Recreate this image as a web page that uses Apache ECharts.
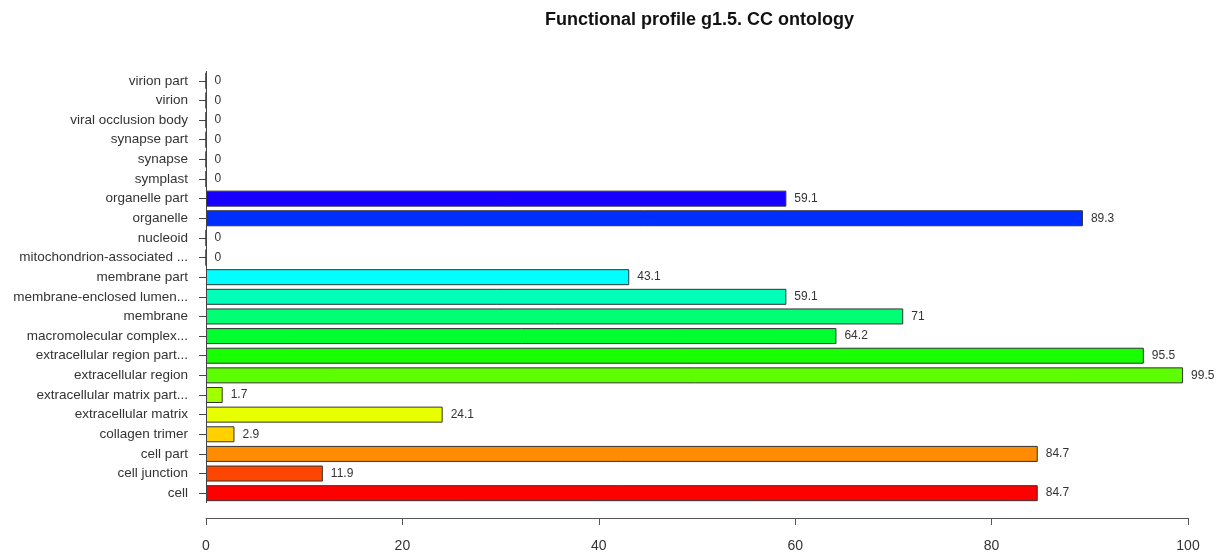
<!DOCTYPE html>
<html>
<head>
<meta charset="utf-8">
<script src="https://cdn.jsdelivr.net/npm/echarts@6/dist/echarts.min.js"></script>
<style>
  html, body { margin: 0; padding: 0; background: #fff; }
  #chart { width: 1222px; height: 554px; }
</style>
</head>
<body>
<div id="chart"></div>
<script>
// GO cellular component terms, listed from the bottom bar upward
const categories = [
  'cell', 'cell junction', 'cell part', 'collagen trimer',
  'extracellular matrix', 'extracellular matrix part...', 'extracellular region',
  'extracellular region part...', 'macromolecular complex...', 'membrane',
  'membrane-enclosed lumen...', 'membrane part', 'mitochondrion-associated ...',
  'nucleoid', 'organelle', 'organelle part', 'symplast', 'synapse',
  'synapse part', 'viral occlusion body', 'virion', 'virion part'
];
// Percentage of genes annotated to each term
const values = [
  84.7, 11.9, 84.7, 2.9, 24.1, 1.7, 99.5, 95.5, 64.2, 71,
  59.1, 43.1, 0, 0, 89.3, 59.1, 0, 0, 0, 0, 0, 0
];
const xTicks = [0, 20, 40, 60, 80, 100];

// Rainbow palette: evenly spaced hues, one per term
function rainbow(n) {
  const out = [];
  for (let i = 0; i < n; i++) {
    const h = (i / n) * 6;
    const k = Math.floor(h), f = h - k;
    let r, g, b;
    switch (k) {
      case 0: r = 1; g = f; b = 0; break;
      case 1: r = 1 - f; g = 1; b = 0; break;
      case 2: r = 0; g = 1; b = f; break;
      case 3: r = 0; g = 1 - f; b = 1; break;
      case 4: r = f; g = 0; b = 1; break;
      default: r = 1; g = 0; b = 1 - f;
    }
    const hex = v => Math.round(v * 255).toString(16).padStart(2, '0');
    out.push('#' + hex(r) + hex(g) + hex(b));
  }
  return out;
}
const palette = rainbow(categories.length);

const chart = echarts.init(document.getElementById('chart'), null, { renderer: 'canvas' });
const font = 'Liberation Sans, Arial, Helvetica, sans-serif';

chart.setOption({
  animation: false,
  backgroundColor: '#ffffff',
  title: {
    text: 'Functional profile g1.5. CC ontology',
    left: 545,
    top: 11,
    padding: 0,
    textStyle: { fontFamily: font, fontSize: 18, fontWeight: 'bold', color: '#111' }
  },
  grid: { left: 206, right: 34, top: 71, bottom: 51, containLabel: false },
  xAxis: {
    type: 'value',
    min: xTicks[0],
    max: xTicks[xTicks.length - 1],
    interval: 20,
    offset: 15,
    axisLine: { show: true, lineStyle: { color: '#555', width: 1 } },
    axisTick: { show: true, inside: false, length: 7, lineStyle: { color: '#555' } },
    axisLabel: { fontFamily: font, fontSize: 14, color: '#333', margin: 21 },
    splitLine: { show: false }
  },
  yAxis: {
    type: 'category',
    data: categories,
    offset: 3,
    axisLine: { show: false },
    axisTick: { show: true, alignWithLabel: true, length: 7, lineStyle: { color: '#444' } },
    axisLabel: { fontFamily: font, fontSize: 13.5, color: '#333', margin: 15 }
  },
  series: [{
    type: 'bar',
    data: values.map((v, i) => ({ value: v, itemStyle: { color: palette[i] } })),
    barWidth: 16,
    itemStyle: { borderColor: '#333', borderWidth: 1 },
    label: {
      show: true,
      position: 'right',
      distance: 8,
      fontFamily: font,
      fontSize: 12,
      color: '#333',
      formatter: p => String(p.value)
    },
    markLine: {
      silent: true,
      symbol: 'none',
      label: { show: false },
      lineStyle: { color: '#444', width: 1, type: 'solid' },
      data: [{ xAxis: 0 }]
    }
  }]
});
</script>
</body>
</html>
